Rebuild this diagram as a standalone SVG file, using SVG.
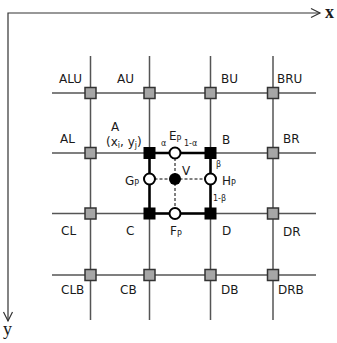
<svg xmlns="http://www.w3.org/2000/svg" width="337" height="343" viewBox="0 0 337 343">
<style>
.grid{stroke:#555;stroke-width:1.5;fill:none}
.axis{stroke:#333;stroke-width:1.2;fill:none}
.gsq{fill:#a6a6a6;stroke:#333;stroke-width:1.5}
.bsq{fill:#000;stroke:#000;stroke-width:1}
.oc{fill:#fff;stroke:#000;stroke-width:2}
.lbl{font-family:"DejaVu Sans","Liberation Sans",sans-serif;font-size:12px;fill:#1a1a1a}
.sm{font-family:"DejaVu Sans","Liberation Sans",sans-serif;font-size:8px;fill:#1a1a1a}
.ax{font-family:"Liberation Serif",serif;font-size:18px;fill:#1a1a1a}
</style>
<rect width="337" height="343" fill="#fff"/>
<g id="connectors">
<g id="axes">
<polyline class="axis" points="8,321 8,13 320,13"/>
<polyline class="axis" points="311,8.5 320,13 311,17.5"/>
<polyline class="axis" points="3.5,312 8,321 12.5,312"/>
</g>
<g id="gridlines">
<line class="grid" x1="52" y1="93" x2="316" y2="93"/>
<line class="grid" x1="52" y1="153" x2="316" y2="153"/>
<line class="grid" x1="52" y1="213.5" x2="316" y2="213.5"/>
<line class="grid" x1="52" y1="275" x2="316" y2="275"/>
<line class="grid" x1="90.5" y1="56" x2="90.5" y2="320"/>
<line class="grid" x1="149.5" y1="56" x2="149.5" y2="320"/>
<line class="grid" x1="210.5" y1="56" x2="210.5" y2="320"/>
<line class="grid" x1="273" y1="56" x2="273" y2="320"/>
</g>
<rect x="149.5" y="153" width="61" height="60.5" fill="none" stroke="#000" stroke-width="2.5"/>
<line x1="149.5" y1="179" x2="210.5" y2="179" stroke="#000" stroke-width="1" stroke-dasharray="3,2"/>
<line x1="175" y1="153" x2="175" y2="213.5" stroke="#000" stroke-width="1" stroke-dasharray="3,2"/>
</g>
<g id="ALU"><rect class="gsq" x="85" y="87.5" width="11" height="11"/><text class="lbl" x="59" y="83">ALU</text></g>
<g id="AU"><rect class="gsq" x="144" y="87.5" width="11" height="11"/><text class="lbl" x="117" y="83">AU</text></g>
<g id="BU"><rect class="gsq" x="205" y="87.5" width="11" height="11"/><text class="lbl" x="221" y="83">BU</text></g>
<g id="BRU"><rect class="gsq" x="267.5" y="87.5" width="11" height="11"/><text class="lbl" x="277" y="83">BRU</text></g>
<g id="AL"><rect class="gsq" x="85" y="147.5" width="11" height="11"/><text class="lbl" x="60" y="143">AL</text></g>
<g id="BR"><rect class="gsq" x="267.5" y="147.5" width="11" height="11"/><text class="lbl" x="283" y="143">BR</text></g>
<g id="CL"><rect class="gsq" x="85" y="208" width="11" height="11"/><text class="lbl" x="61" y="235">CL</text></g>
<g id="DR"><rect class="gsq" x="267.5" y="208" width="11" height="11"/><text class="lbl" x="283" y="236">DR</text></g>
<g id="CLB"><rect class="gsq" x="85" y="269.5" width="11" height="11"/><text class="lbl" x="61" y="294">CLB</text></g>
<g id="CB"><rect class="gsq" x="144" y="269.5" width="11" height="11"/><text class="lbl" x="120" y="294">CB</text></g>
<g id="DB"><rect class="gsq" x="205" y="269.5" width="11" height="11"/><text class="lbl" x="221" y="294">DB</text></g>
<g id="DRB"><rect class="gsq" x="267.5" y="269.5" width="11" height="11"/><text class="lbl" x="278" y="294">DRB</text></g>
<g id="A"><rect class="bsq" x="144" y="147.5" width="11" height="11"/><text class="lbl" x="111" y="131">A</text><text class="lbl" x="106" y="146">(x<tspan font-size="8" dy="2">i</tspan><tspan dy="-2">, y</tspan><tspan font-size="8" dy="2">j</tspan><tspan dy="-2">)</tspan></text></g>
<g id="B"><rect class="bsq" x="205" y="147.5" width="11" height="11"/><text class="lbl" x="222" y="144">B</text></g>
<g id="C"><rect class="bsq" x="144" y="208" width="11" height="11"/><text class="lbl" x="126" y="235">C</text></g>
<g id="D"><rect class="bsq" x="205" y="208" width="11" height="11"/><text class="lbl" x="222" y="235">D</text></g>
<g id="Ep"><circle class="oc" cx="175" cy="153" r="5.5"/><text class="lbl" x="169" y="140">E<tspan font-size="8" dy="2">P</tspan></text><text class="sm" x="161" y="146">α</text><text class="sm" x="184" y="146">1-α</text></g>
<g id="Fp"><circle class="oc" cx="175" cy="213.5" r="5.5"/><text class="lbl" x="170" y="235">F<tspan font-size="8" dy="2">P</tspan></text></g>
<g id="Gp"><circle class="oc" cx="149.5" cy="179" r="5.5"/><text class="lbl" x="125" y="185">G<tspan font-size="8" dy="1">P</tspan></text></g>
<g id="Hp"><circle class="oc" cx="210.5" cy="179" r="5.5"/><text class="lbl" x="222" y="185">H<tspan font-size="8" dy="1">P</tspan></text><text class="sm" x="216" y="167">β</text><text class="sm" x="213" y="201">1-β</text></g>
<g id="V"><circle cx="175" cy="179" r="6" fill="#000"/><text class="lbl" x="182" y="175">V</text></g>
<text class="ax" x="325" y="18" font-weight="bold">x</text>
<text class="ax" x="3" y="335">y</text>
</svg>
